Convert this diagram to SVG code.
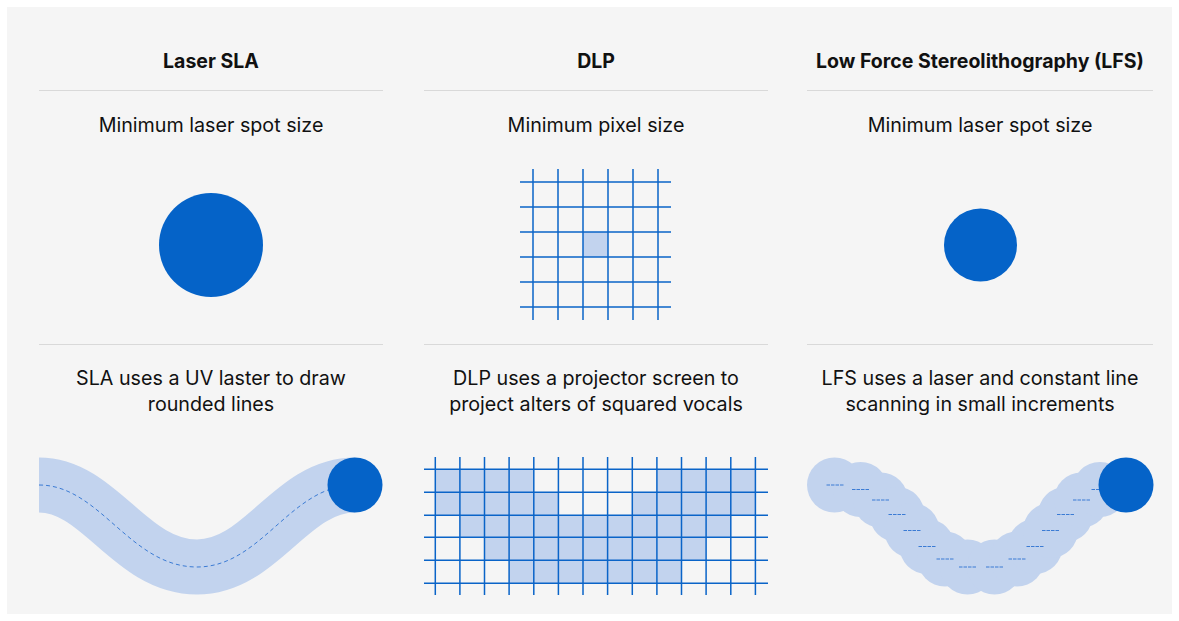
<svg xmlns="http://www.w3.org/2000/svg" width="1179" height="621" viewBox="0 0 1179 621">
<style>
.h{font-family:Inter,"Liberation Sans",sans-serif;font-weight:700;font-size:19.5px;fill:#111;text-anchor:middle}
.t{font-family:Inter,"Liberation Sans",sans-serif;font-weight:400;font-size:19.7px;fill:#111;text-anchor:middle}
.sep{stroke:#d9d9d9;stroke-width:1.2}
.dark{fill:#0563c8}
.light{fill:#c2d3ee}
.grid{stroke:#0a64c8;stroke-width:1.5;fill:none}
.dash{stroke:#3b7bd4;stroke-width:1;fill:none;stroke-dasharray:3.5 1}
</style>
<rect width="1179" height="621" fill="#ffffff"/>
<rect x="7" y="7" width="1165" height="607" fill="#f5f5f5"/>

<g id="sla">
<text class="h" x="211" y="67.5">Laser SLA</text>
<line class="sep" x1="39" y1="90.5" x2="383" y2="90.5"/>
<text class="t" x="211" y="132">Minimum laser spot size</text>
<circle class="dark" cx="211" cy="245" r="52"/>
<line class="sep" x1="39" y1="344.5" x2="383" y2="344.5"/>
<text class="t" x="211" y="385">SLA uses a UV laster to draw</text>
<text class="t" x="211" y="411">rounded lines</text>
<path d="M39,485 C100,485 130,567 197,567 C262,567 290,485 355,485" fill="none" stroke="#c2d3ee" stroke-width="55"/>
<path d="M39,485 C100,485 130,567 197,567 C262,567 290,485 355,485" fill="none" stroke="#3b7bd4" stroke-width="1" stroke-dasharray="4 3"/>
<circle class="dark" cx="355" cy="485" r="27.5"/>
</g>

<g id="dlp">
<text class="h" x="596" y="67.5">DLP</text>
<line class="sep" x1="424" y1="90.5" x2="768" y2="90.5"/>
<text class="t" x="596" y="132">Minimum pixel size</text>
<rect class="light" x="583" y="232" width="25" height="25"/>
<path class="grid" d="M533,169V320M558,169V320M583,169V320M608,169V320M633,169V320M658,169V320M520,182H671M520,207H671M520,232H671M520,257H671M520,282H671M520,307H671"/>
<line class="sep" x1="424" y1="344.5" x2="768" y2="344.5"/>
<text class="t" x="596" y="385">DLP uses a projector screen to</text>
<text class="t" x="596" y="411">project alters of squared vocals</text>
<g class="light">
<rect x="435.3" y="469.3" width="98.5" height="23"/>
<rect x="656.9" y="469.3" width="98.5" height="23"/>
<rect x="435.3" y="492.3" width="123.1" height="23"/>
<rect x="632.3" y="492.3" width="123.1" height="23"/>
<rect x="459.9" y="515.3" width="270.9" height="22"/>
<rect x="484.5" y="537.3" width="221.6" height="23"/>
<rect x="509.1" y="560.3" width="172.4" height="23"/>
</g>
<path class="grid" d="M435.3,457V595M459.9,457V595M484.5,457V595M509.1,457V595M533.8,457V595M558.4,457V595M583,457V595M607.6,457V595M632.3,457V595M656.9,457V595M681.5,457V595M706.1,457V595M730.8,457V595M755.4,457V595M424,469.3H768M424,492.3H768M424,515.3H768M424,537.3H768M424,560.3H768M424,583.3H768"/>
</g>

<g id="lfs">
<text class="h" x="980" y="67.5">Low Force Stereolithography (LFS)</text>
<line class="sep" x1="807" y1="90.5" x2="1153" y2="90.5"/>
<text class="t" x="980" y="132">Minimum laser spot size</text>
<circle class="dark" cx="980.5" cy="245" r="36.5"/>
<line class="sep" x1="807" y1="344.5" x2="1153" y2="344.5"/>
<text class="t" x="980" y="385">LFS uses a laser and constant line</text>
<text class="t" x="980" y="411">scanning in small increments</text>
<g class="light">
<circle cx="834.5" cy="485" r="27.5"/>
<circle cx="860.5" cy="489.5" r="27.5"/>
<circle cx="880.5" cy="500" r="27.5"/>
<circle cx="897" cy="514.5" r="27.5"/>
<circle cx="912" cy="530.5" r="27.5"/>
<circle cx="927" cy="546.5" r="27.5"/>
<circle cx="945" cy="559" r="27.5"/>
<circle cx="967.5" cy="567" r="27.5"/>
<circle cx="994.5" cy="567" r="27.5"/>
<circle cx="1017" cy="559" r="27.5"/>
<circle cx="1035" cy="546.5" r="27.5"/>
<circle cx="1050.5" cy="530.5" r="27.5"/>
<circle cx="1065.5" cy="514.5" r="27.5"/>
<circle cx="1081.5" cy="500" r="27.5"/>
<circle cx="1100" cy="489.5" r="27.5"/>
</g>
<path class="dash" d="M826.5,485h17M852,489.5h17M872,500h17M888.5,514.5h17M903.5,530.5h17M918.5,546.5h17M936.5,559h17M959,567h17M986,567h17M1008.5,559h17M1026.5,546.5h17M1042,530.5h17M1057,514.5h17M1073,500h17M1091.5,489.5h17"/>
<circle class="dark" cx="1126" cy="485" r="27.5"/>
</g>
</svg>
